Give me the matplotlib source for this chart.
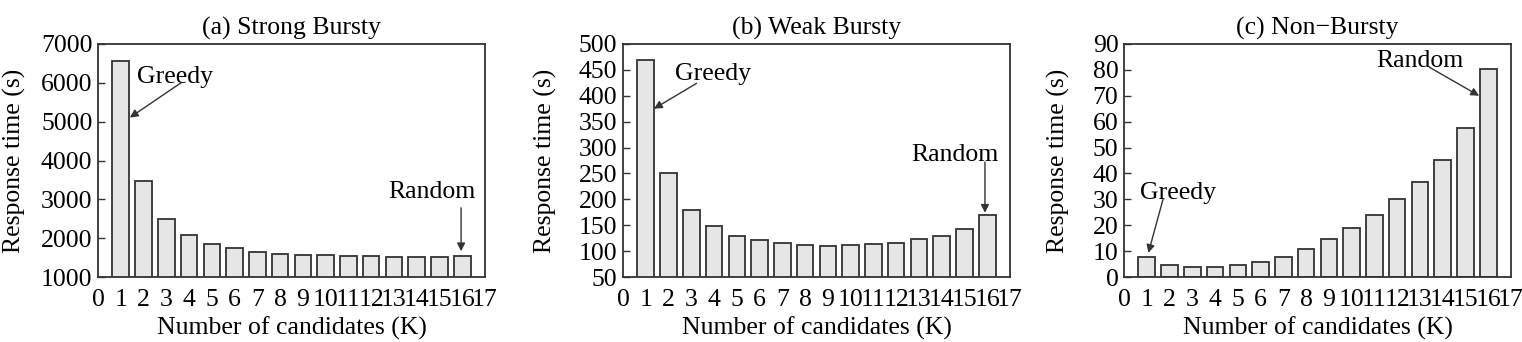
import matplotlib
matplotlib.use("Agg")
import matplotlib.pyplot as plt

plt.rcParams['font.family'] = ['Liberation Serif', 'DejaVu Serif']

k_values = list(range(1, 17))
x_ticks = list(range(0, 18))

titles = ["(a) Strong Bursty", "(b) Weak Bursty", "(c) Non\u2212Bursty"]

strong_bursty = [6550, 3460, 2505, 2075, 1860, 1740, 1645, 1595, 1570, 1560,
                 1550, 1535, 1525, 1515, 1515, 1535]
weak_bursty = [469, 250, 180, 148, 130, 121, 115, 112, 110, 111,
               113, 116, 123, 130, 143, 169]
non_bursty = [7.9, 4.5, 3.7, 3.7, 4.5, 5.8, 7.9, 10.8, 14.7, 19.1,
              24.0, 30.0, 36.8, 45.2, 57.6, 80.4]

series = [strong_bursty, weak_bursty, non_bursty]
y_limits = [(1000, 7000), (50, 500), (0, 90)]
y_steps = [1000, 50, 10]

# annotations: (text, text_xy, arrow_start, arrow_end)
annotations = [
    [("Greedy", (3.4, 6150), (3.67, 6010), (1.4, 5106)),
     ("Random", (14.67, 3186), (15.95, 2782), (15.95, 1663))],
    [("Greedy", (3.94, 442), (3.23, 424), (1.36, 375)),
     ("Random", (14.6, 285), (15.9, 272), (15.9, 174))],
    [("Random", (13.0, 83.5), (13.42, 81), (15.6, 70)),
     ("Greedy", (2.38, 32.3), (1.72, 30.2), (1.07, 9.3))],
]

W, H = 1522, 342
fig = plt.figure(figsize=(W / 100, H / 100), dpi=100)

axes_px = [(98, 485), (623, 1010), (1124, 1511)]
ylabel_pads = [10.5, 16, 16]
top_px, bottom_px = 44, 277

fs = 18.5
for i, (l, r) in enumerate(axes_px):
    ax = fig.add_axes([l / W, 1 - bottom_px / H, (r - l) / W, (bottom_px - top_px) / H])
    ax.bar(k_values, series[i], width=0.73, color='#e6e6e6', edgecolor='#333333',
           linewidth=1.3, bottom=0)
    ax.set_xlim(0, 17)
    ax.set_ylim(*y_limits[i])
    lo, hi = y_limits[i]
    ax.set_yticks(list(range(lo, hi + 1, y_steps[i])))
    ax.set_xticks(x_ticks)
    ax.tick_params(axis='x', length=0, labelsize=fs, pad=9)
    ax.tick_params(axis='y', direction='in', length=5, width=1, labelsize=fs,
                   pad=4, color='#333333')
    for s in ax.spines.values():
        s.set_linewidth(1.3)
        s.set_color('#333333')
    ax.set_title(titles[i], fontsize=fs, pad=7)
    ax.set_xlabel("Number of candidates (K)", fontsize=fs, labelpad=4)
    ax.set_ylabel("Response time (s)", fontsize=fs, labelpad=ylabel_pads[i])
    for text, txy, a0, a1 in annotations[i]:
        ax.text(txy[0], txy[1], text, fontsize=fs, ha='center', va='center')
        ax.annotate("", xy=a1, xytext=a0,
                    arrowprops=dict(arrowstyle='-|>', color='#333333', lw=1.0,
                                    mutation_scale=12, shrinkA=0, shrinkB=0))

fig.savefig("out.png", dpi=100)
